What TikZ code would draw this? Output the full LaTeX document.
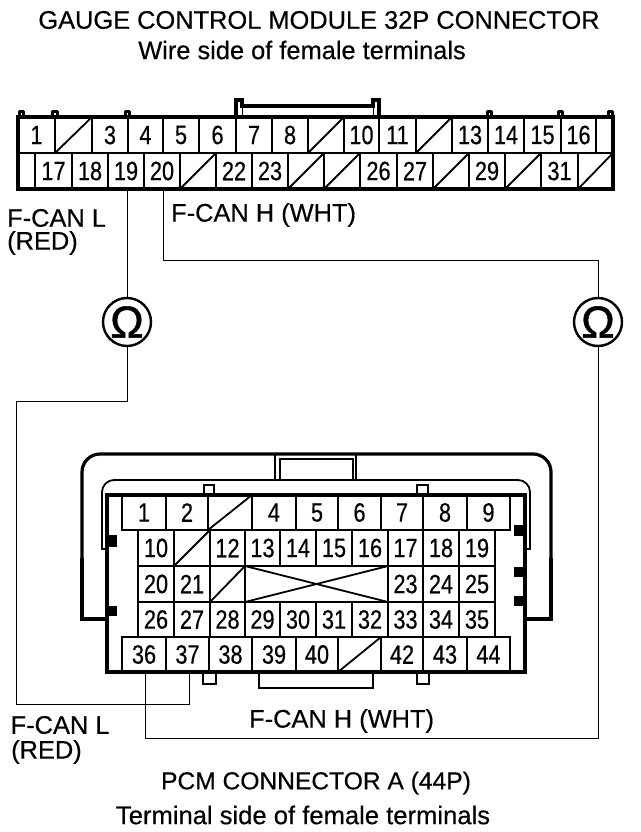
\documentclass[tikz,border=0pt]{standalone}
\usepackage{fontspec}
\setmainfont{Liberation Sans}
\newfontfamily\cellfont[FakeStretch=0.82,FakeBold=0.4]{Liberation Sans}
\newfontfamily\labelfont[FakeBold=0.4]{Liberation Sans}
\newfontfamily\omfont[FakeBold=1.2]{Liberation Sans}
\newcommand{\cellrow}[4]{%
  \foreach \nm/\xa/\xb/\tx in {#4} {
    \node[#1, minimum width={(\xb-\xa)*1pt}, minimum height={(#3-#2)*1pt}] (\nm) at ({(\xa+\xb)/2},{(#2+#3)/2}) {\tx};
  }}
\tikzset{
  gcell/.style={draw=black, line width=2.5pt, inner sep=0pt, outer sep=0pt, font=\cellfont\fontsize{26.5}{26.5}\selectfont},
  pcell/.style={gcell, line width=2.1pt},
  thickline/.style={draw=black, line width=3.2pt, line join=miter},
  tabline/.style={draw=black, line width=3pt, line join=round},
  midline/.style={draw=black, line width=1.8pt},
  wire/.style={draw=black, line width=0.9pt},
  meter/.style={circle, draw=black, line width=2.4pt, minimum size=48pt, inner sep=0pt, outer sep=0pt, font=\omfont\fontsize{45}{45}\selectfont, fill=white},
  title/.style={inner sep=0pt, font=\labelfont\fontsize{25.4}{27}\selectfont, text=black},
  lab/.style={title, anchor=west},
  blk/.style={fill=black, draw=none}
}
\begin{document}
\begin{tikzpicture}[x=1pt,y=-1pt]
\useasboundingbox (0,0) rectangle (640,832);
% titles
\node[title] (t1) at (319,20) {GAUGE CONTROL MODULE 32P CONNECTOR};
\node[title] (t2) at (302,50) {Wire side of female terminals};
\node[title, font=\labelfont\fontsize{24.6}{27}\selectfont] (t3) at (316,783) {PCM CONNECTOR A (44P)};
\node[title, font=\labelfont\fontsize{25.6}{27}\selectfont] (t4) at (303,815) {Terminal side of female terminals};
% gauge connector tabs
\draw[tabline] (19.5,117) -- (19.5,111.5) -- (23.5,111.5) -- (23.5,117);
\draw[tabline] (52.5,117) -- (52.5,111.5) -- (57,111.5) -- (57,117);
\draw[tabline] (125,117) -- (125,111.5) -- (129.5,111.5) -- (129.5,117);
\draw[tabline] (487,117) -- (487,111.5) -- (491.5,111.5) -- (491.5,117);
\draw[tabline] (558,117) -- (558,111.5) -- (562.5,111.5) -- (562.5,117);
\draw[tabline] (608,117) -- (608,111.5) -- (612,111.5) -- (612,117);
\draw[thickline] (236,117) -- (236,100) -- (242,100) -- (242,106) -- (373,106) -- (373,100) -- (379,100) -- (379,117);
\draw[midline, line width=1pt] (242,106) -- (242,117) (373,106) -- (373,117);
% gauge connector cells
\cellrow{gcell}{117}{153}{g1/18/55/1, g2/55/92/{}, g3/92/128/3, g4/128/163/4, g5/163/199/5, g6/199/236/6, g7/236/272/7, g8/272/308/8, g9/308/344/{}, g10/344/379/10, g11/379/416/11, g12/416/452/{}, g13/452/488/13, g14/488/524/14, g15/524/561/15, g16/561/596/16, g0/596/613/{}}
\cellrow{gcell}{153}{189}{h0/18/35/{}, g17/35/72/17, g18/72/108/18, g19/108/144/19, g20/144/180/20, g21/180/216/{}, g22/216/252/22, g23/252/288/23, g24/288/324/{}, g25/324/360/{}, g26/360/397/26, g27/397/433/27, g28/433/469/{}, g29/469/505/29, g30/505/541/{}, g31/541/578/31, g32/578/613/{}}
\foreach \nm in {g2,g9,g12,g21,g24,g25,g28,g30,g32}
  \draw[midline] (\nm.south west) -- (\nm.north east);
\draw[thickline] (18,117) -- (613,117) -- (613,189) -- (18,189) -- cycle;
% PCM housing
\draw[thickline, rounded corners=18pt] (82,560) -- (82,454) -- (551,454) -- (551,560);
\draw[thickline] (82,558) -- (82,619) -- (107,619) (551,558) -- (551,619) -- (525,619);
\draw[midline] (275,454) -- (275,480) (356,454) -- (356,480);
\draw[thickline, line width=2.4pt] (280,480) -- (280,459) -- (353,459) -- (353,480);
\draw[midline, rounded corners=12pt] (102,530) -- (102,480) -- (530,480) -- (530,530);
\draw[midline] (102,528) -- (102,549) -- (107,549) (530,528) -- (530,549) -- (525,549);
\draw[midline, line width=1.6pt] (204,495) -- (204,485) -- (214,485) -- (214,495);
\draw[midline, line width=1.6pt] (417,495) -- (417,485) -- (428,485) -- (428,495);
% bottom tabs and notch
\draw[thickline, line width=2.6pt] (203,672) -- (203,684) -- (216,684) -- (216,672);
\draw[thickline, line width=2.6pt] (417,672) -- (417,684) -- (429,684) -- (429,672);
\draw[thickline, line width=2.8pt] (259,672) -- (259,688) -- (373,688) -- (373,672);
\draw[thickline] (107,495) -- (525,495) -- (525,672) -- (107,672) -- cycle;
% PCM cells
\cellrow{pcell}{495}{530}{p1/122/166/1, p2/166/208/2, p3/208/252/{}, p4/252/296/4, p5/296/338/5, p6/338/381/6, p7/381/423/7, p8/423/467/8, p9/467/510/9}
\cellrow{pcell}{530}{566}{p10/138/174/10, p11/174/210/{}, p12/210/245/12, p13/245/280/13, p14/280/316/14, p15/316/352/15, p16/352/388/16, p17/388/423/17, p18/423/459/18, p19/459/495/19}
\cellrow{pcell}{566}{602}{p20/138/174/20, p21/174/210/21, p22/210/245/{}, xb/245/388/{}, p23/388/423/23, p24/423/459/24, p25/459/495/25}
\cellrow{pcell}{602}{637}{p26/138/174/26, p27/174/210/27, p28/210/245/28, p29/245/280/29, p30/280/316/30, p31/316/352/31, p32/352/388/32, p33/388/423/33, p34/423/459/34, p35/459/495/35}
\cellrow{pcell}{637}{672}{p36/122/166/36, p37/166/209/37, p38/209/252/38, p39/252/296/39, p40/296/338/40, p41/338/381/{}, p42/381/423/42, p43/423/467/43, p44/467/510/44}
\foreach \nm in {p3,p11,p22,p41}
  \draw[midline] (\nm.south west) -- (\nm.north east);
\draw[midline] (xb.north west) -- (xb.south east) (xb.south west) -- (xb.north east);
% black squares
\fill[blk] (107,535) rectangle (117,547);
\fill[blk] (107,606) rectangle (117,616);
\fill[blk] (514,525) rectangle (525,536);
\fill[blk] (514,567) rectangle (525,577);
\fill[blk] (514,596) rectangle (525,606);
% meters
\node[meter] (om1) at (127,322) {Ω};
\node[meter] (om2) at (598,322) {Ω};
% wires
\coordinate (w20) at (163,260);
\coordinate (w36) at (145.5,738);
\coordinate (w37) at (189,704);
\coordinate (wl) at (16,401);
\draw[wire] (g19.south -| om1.north) -- (om1.north);
\draw[wire] (g20.south -| w20) -- (w20) -- (w20 -| om2.north) -- (om2.north);
\draw[wire] (om2.south) -- (om2.south |- w36) -- (w36) -- (p36.south -| w36);
\draw[wire] (om1.south) -- (om1.south |- wl) -- (wl) -- (wl |- w37) -- (w37) -- (p37.south -| w37);
% labels
\node[lab] (l1) at (7,218) {F-CAN L};
\node[lab] (l2) at (7,243) {(RED)};
\node[lab] (l3) at (171,215) {F-CAN H (WHT)};
\node[lab] (l4) at (10.5,725) {F-CAN L};
\node[lab] (l5) at (11,752) {(RED)};
\node[lab] (l6) at (249,721) {F-CAN H (WHT)};
\end{tikzpicture}
\end{document}
